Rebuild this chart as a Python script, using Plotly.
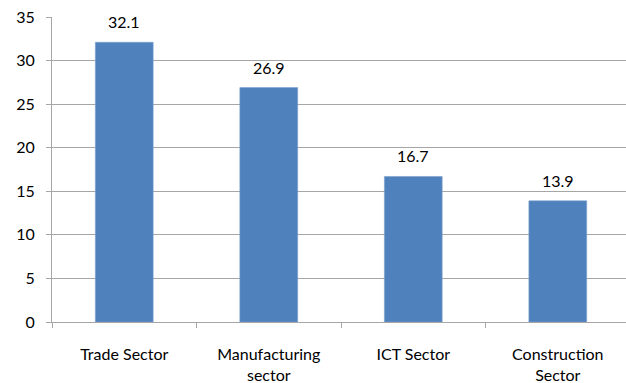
import plotly.graph_objects as go

# Share of enterprises by sector
categories = ["Trade Sector", "Manufacturing<br>sector", "ICT Sector", "Construction<br>Sector"]
values = [32.1, 26.9, 16.7, 13.9]
y_ticks = [0, 5, 10, 15, 20, 25, 30, 35]

BAR_COLOR = "#4F81BD"
GRID_COLOR = "#A6A6A6"
FONT = "Lato, Open Sans, sans-serif"

fig = go.Figure(
    go.Bar(
        x=categories,
        y=values,
        marker=dict(color=BAR_COLOR, line=dict(color="#7A9FCF", width=0.6)),
    )
)

# value labels sitting above each bar
for cat, v in zip(categories, values):
    fig.add_annotation(
        x=cat,
        y=v,
        text=f"{v:.1f}",
        showarrow=False,
        yanchor="bottom",
        yshift=9,
        font=dict(family=FONT, size=16, color="#000000"),
    )

fig.update_layout(
    width=626,
    height=383,
    margin=dict(l=52, r=0, t=17, b=61),
    paper_bgcolor="white",
    plot_bgcolor="white",
    bargap=0.6,
    showlegend=False,
    font=dict(family=FONT, size=16, color="#000000"),
)

fig.update_xaxes(
    type="category",
    range=[-0.5, 3.472],
    showline=True,
    linecolor=GRID_COLOR,
    linewidth=1,
    ticks="outside",
    tickson="boundaries",
    ticklen=5,
    tickcolor=GRID_COLOR,
    ticklabelstandoff=18,
    showgrid=False,
    tickfont=dict(family=FONT, size=16, color="#000000"),
)

fig.update_yaxes(
    range=[0, 35],
    tickvals=y_ticks,
    showline=True,
    linecolor=GRID_COLOR,
    linewidth=1,
    ticks="outside",
    ticklen=5,
    tickcolor=GRID_COLOR,
    showgrid=True,
    gridcolor=GRID_COLOR,
    gridwidth=1,
    zeroline=False,
    ticklabelstandoff=8,
    tickfont=dict(family=FONT, size=16, color="#000000"),
)

fig.write_html("out.html")
